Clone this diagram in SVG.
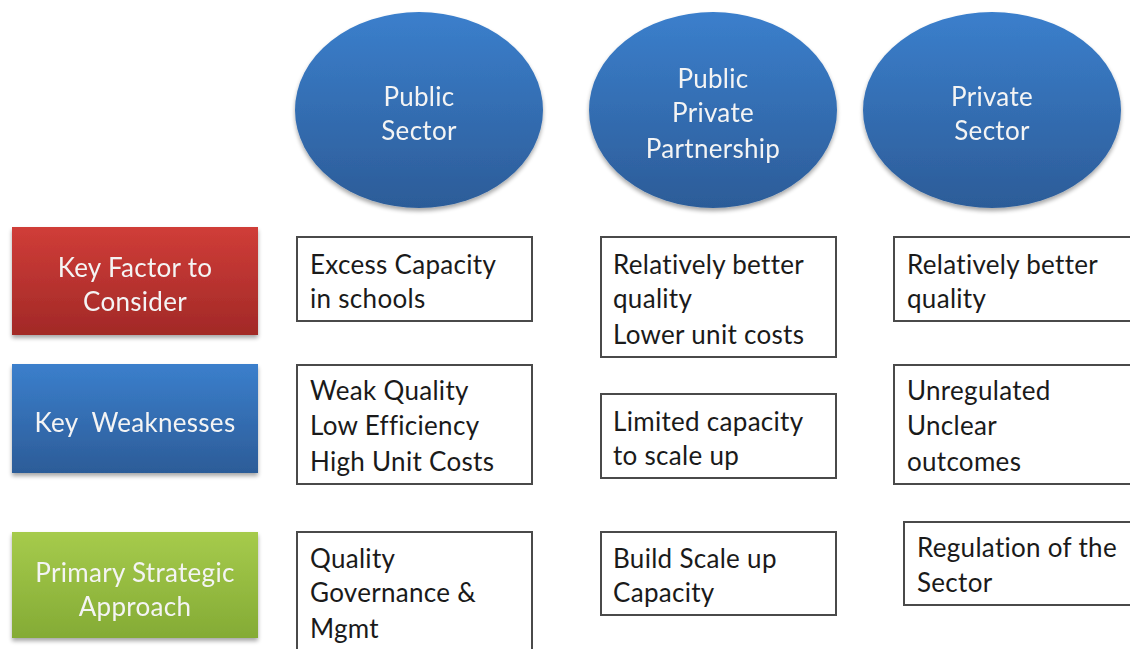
<svg xmlns="http://www.w3.org/2000/svg" width="1130" height="649" viewBox="0 0 1130 649">
  <defs>
    <linearGradient id="gBlue" x1="0" y1="0" x2="0" y2="1">
      <stop offset="0" stop-color="#3b7fcc"/>
      <stop offset="1" stop-color="#2c5c98"/>
    </linearGradient>
    <linearGradient id="gRed" x1="0" y1="0" x2="0" y2="1">
      <stop offset="0" stop-color="#d03d38"/>
      <stop offset="1" stop-color="#a22927"/>
    </linearGradient>
    <linearGradient id="gGreen" x1="0" y1="0" x2="0" y2="1">
      <stop offset="0" stop-color="#a6cb4c"/>
      <stop offset="1" stop-color="#84ab35"/>
    </linearGradient>
    <filter id="shadow" x="-10%" y="-10%" width="120%" height="130%">
      <feGaussianBlur in="SourceAlpha" stdDeviation="2"/>
      <feOffset dx="0" dy="3" result="b"/>
      <feComponentTransfer><feFuncA type="linear" slope="0.35"/></feComponentTransfer>
      <feMerge><feMergeNode/><feMergeNode in="SourceGraphic"/></feMerge>
    </filter>
  </defs>
  <style>
    .lbl { font-family: Lato, "Open Sans", sans-serif; font-size: 26px; letter-spacing: 0.3px; fill: #f4f4f4; text-anchor: middle; }
    .txt { font-family: Lato, "Open Sans", sans-serif; font-size: 26px; letter-spacing: 0.3px; fill: #1a1a1a; }
    .box { fill: #ffffff; stroke: #4a4a4a; stroke-width: 2; }
  </style>

  <rect width="1130" height="649" fill="#ffffff"/>

  <!-- column headers -->
  <g id="public-sector" filter="url(#shadow)">
    <ellipse cx="419" cy="110" rx="124" ry="98" fill="url(#gBlue)"/>
    <text class="lbl" x="419" y="106">Public</text>
    <text class="lbl" x="419" y="140">Sector</text>
  </g>
  <g id="ppp" filter="url(#shadow)">
    <ellipse cx="713" cy="110" rx="124" ry="98" fill="url(#gBlue)"/>
    <text class="lbl" x="713" y="88">Public</text>
    <text class="lbl" x="713" y="122">Private</text>
    <text class="lbl" x="713" y="158">Partnership</text>
  </g>
  <g id="private-sector" filter="url(#shadow)">
    <ellipse cx="992" cy="110" rx="129" ry="98" fill="url(#gBlue)"/>
    <text class="lbl" x="992" y="106">Private</text>
    <text class="lbl" x="992" y="140">Sector</text>
  </g>

  <!-- row headers -->
  <g id="key-factor" filter="url(#shadow)">
    <rect x="12" y="227" width="246" height="108" fill="url(#gRed)"/>
    <text class="lbl" x="135" y="277">Key Factor to</text>
    <text class="lbl" x="135" y="311">Consider</text>
  </g>
  <g id="key-weaknesses" filter="url(#shadow)">
    <rect x="12" y="364" width="246" height="109" fill="url(#gBlue)"/>
    <text class="lbl" x="135" y="432" xml:space="preserve">Key  Weaknesses</text>
  </g>
  <g id="strategic-approach" filter="url(#shadow)">
    <rect x="12" y="532" width="246" height="106" fill="url(#gGreen)"/>
    <text class="lbl" x="135" y="582">Primary Strategic</text>
    <text class="lbl" x="135" y="616">Approach</text>
  </g>

  <!-- row 1: key factors -->
  <g id="factor-public">
    <rect class="box" x="297" y="237" width="235" height="84"/>
    <text class="txt" x="310" y="274">Excess Capacity</text>
    <text class="txt" x="310" y="308">in schools</text>
  </g>
  <g id="factor-ppp">
    <rect class="box" x="601" y="237" width="235" height="120"/>
    <text class="txt" x="613" y="274">Relatively better</text>
    <text class="txt" x="613" y="308">quality</text>
    <text class="txt" x="613" y="344">Lower unit costs</text>
  </g>
  <g id="factor-private">
    <rect class="box" x="894" y="237" width="240" height="84"/>
    <text class="txt" x="907" y="274">Relatively better</text>
    <text class="txt" x="907" y="308">quality</text>
  </g>

  <!-- row 2: weaknesses -->
  <g id="weak-public">
    <rect class="box" x="297" y="365" width="235" height="119"/>
    <text class="txt" x="310" y="400">Weak Quality</text>
    <text class="txt" x="310" y="435">Low Efficiency</text>
    <text class="txt" x="310" y="471">High Unit Costs</text>
  </g>
  <g id="weak-ppp">
    <rect class="box" x="601" y="394" width="235" height="84"/>
    <text class="txt" x="613" y="431">Limited capacity</text>
    <text class="txt" x="613" y="465">to scale up</text>
  </g>
  <g id="weak-private">
    <rect class="box" x="894" y="365" width="240" height="119"/>
    <text class="txt" x="907" y="400">Unregulated</text>
    <text class="txt" x="907" y="435">Unclear</text>
    <text class="txt" x="907" y="471">outcomes</text>
  </g>

  <!-- row 3: strategic approach -->
  <g id="approach-public">
    <rect class="box" x="297" y="532" width="235" height="130"/>
    <text class="txt" x="310" y="568">Quality</text>
    <text class="txt" x="310" y="602">Governance &amp;</text>
    <text class="txt" x="310" y="638">Mgmt</text>
  </g>
  <g id="approach-ppp">
    <rect class="box" x="601" y="532" width="235" height="83"/>
    <text class="txt" x="613" y="568">Build Scale up</text>
    <text class="txt" x="613" y="602">Capacity</text>
  </g>
  <g id="approach-private">
    <rect class="box" x="904" y="522" width="230" height="83"/>
    <text class="txt" x="917" y="557">Regulation of the</text>
    <text class="txt" x="917" y="592">Sector</text>
  </g>

  <!-- no connectors in this layout -->
  <g id="connectors"/>
</svg>
